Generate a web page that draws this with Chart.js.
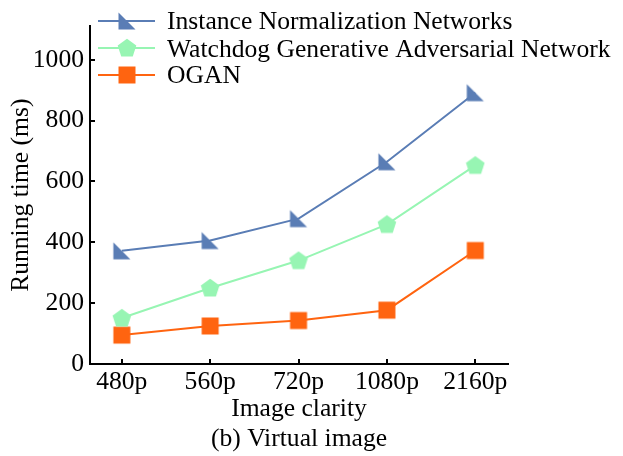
<!DOCTYPE html>
<html>
<head>
<meta charset="utf-8">
<script src="https://cdn.jsdelivr.net/npm/chart.js@4/dist/chart.umd.min.js"></script>
<style>
  html, body { margin: 0; padding: 0; background: #fff; }
</style>
</head>
<body>
<canvas id="chart" width="623" height="456"></canvas>
<script>
// data
const categories = ['480p', '560p', '720p', '1080p', '2160p'];
const instanceNorm = [372, 406, 478, 665, 892];
const watchdogGan = [151, 250, 340, 459, 653];
const ogan = [95, 125, 143, 177, 373];
const yTicks = [0, 200, 400, 600, 800, 1000];

const seriesNames = [
    'Instance Normalization Networks',
    'Watchdog Generative Adversarial Network',
    'OGAN'
];
const colors = ['#5a7db5', '#97f5b3', '#ff6410'];
const FONT = "'Liberation Serif', 'Times New Roman', serif";
const FS = 25.6;

// markers drawn on small canvases
function makeMarker(shape, color) {
    const c = document.createElement('canvas');
    c.width = 20;
    c.height = 20;
    const g = c.getContext('2d');
    g.fillStyle = color;
    g.beginPath();
    if (shape === 'tri') {
        g.moveTo(1.5, 1.5);
        g.lineTo(1.5, 18.5);
        g.lineTo(18.5, 18.5);
    } else if (shape === 'pent') {
        const R = 9.8;
        for (let i = 0; i < 5; i++) {
            const a = -Math.PI / 2 + i * 2 * Math.PI / 5;
            g.lineTo(10 + R * Math.cos(a), 10.5 + R * Math.sin(a));
        }
    } else {
        g.rect(1.5, 1.5, 17, 17);
    }
    g.closePath();
    g.fill();
    return c;
}
const markers = [
    makeMarker('tri', colors[0]),
    makeMarker('pent', colors[1]),
    makeMarker('sq', colors[2])
];

function toPoints(values) {
    return values.map((v, i) => ({ x: i, y: v }));
}

// legend drawn by hand, it sits over the top of the plot
const legendPlugin = {
    id: 'handLegend',
    afterDraw(chart) {
        const ctx = chart.ctx;
        const baselines = [29.3, 56.7, 83.3];
        const centers = [21, 48, 75];
        ctx.save();
        ctx.font = FS + 'px ' + FONT;
        ctx.textBaseline = 'alphabetic';
        ctx.fillStyle = '#000';
        chart.data.datasets.forEach((ds, i) => {
            ctx.strokeStyle = ds.borderColor;
            ctx.lineWidth = 2;
            ctx.beginPath();
            ctx.moveTo(98, centers[i]);
            ctx.lineTo(155, centers[i]);
            ctx.stroke();
            const m = markers[i];
            ctx.drawImage(m, 127 - m.width / 2, centers[i] - m.height / 2);
            ctx.fillText(ds.label, 167, baselines[i]);
        });
        ctx.restore();
    }
};

const ctx = document.getElementById('chart').getContext('2d');
const chart = new Chart(ctx, {
    type: 'line',
    data: {
        datasets: [instanceNorm, watchdogGan, ogan].map((vals, i) => ({
            label: seriesNames[i],
            data: toPoints(vals),
            borderColor: colors[i],
            backgroundColor: colors[i],
            borderWidth: 2,
            pointStyle: markers[i],
            pointRadius: 10,
            tension: 0
        }))
    },
    options: {
        responsive: false,
        animation: false,
        devicePixelRatio: 1,
        layout: { padding: { top: 25, right: 115, left: 0, bottom: 0 } },
        plugins: {
            legend: { display: false },
            tooltip: { enabled: false }
        },
        scales: {
            x: {
                type: 'linear',
                min: -0.36,
                max: 4.37,
                afterFit: s => { s.height = 92; },
                afterBuildTicks: s => { s.ticks = categories.map((c, i) => ({ value: i })); },
                ticks: {
                    callback: v => categories[v],
                    autoSkip: false,
                    maxRotation: 0,
                    padding: 8,
                    color: '#000',
                    font: { family: FONT, size: FS }
                },
                grid: {
                    drawOnChartArea: false,
                    color: '#000',
                    lineWidth: 2,
                    tickLength: -5
                },
                border: { color: '#000', width: 2 },
                title: {
                    display: true,
                    text: ['Image clarity', '(b) Virtual image'],
                    color: '#000',
                    font: { family: FONT, size: FS, lineHeight: 1.2 },
                    padding: { top: 0, bottom: 1 }
                }
            },
            y: {
                min: 0,
                max: 1110,
                afterFit: s => { s.width = 90; },
                afterBuildTicks: s => { s.ticks = yTicks.map(v => ({ value: v })); },
                ticks: {
                    callback: v => String(v),
                    padding: 11,
                    color: '#000',
                    font: { family: FONT, size: FS }
                },
                grid: {
                    drawOnChartArea: false,
                    color: '#000',
                    lineWidth: 2,
                    tickLength: -5
                },
                border: { color: '#000', width: 2 },
                title: {
                    display: true,
                    text: 'Running time (ms)',
                    color: '#000',
                    font: { family: FONT, size: FS },
                    padding: { top: 6, bottom: 0 }
                }
            }
        }
    },
    plugins: [legendPlugin]
});
</script>
</body>
</html>
